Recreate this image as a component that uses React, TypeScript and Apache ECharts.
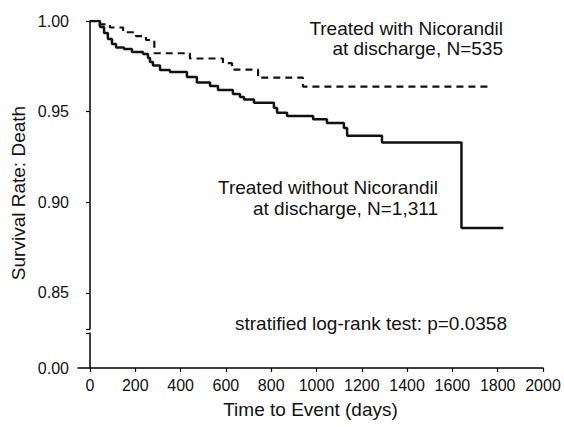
import React, { useEffect, useRef } from "react";
import * as echarts from "echarts";

// Kaplan-Meier steps (day, survival)
const withDays = [0, 31, 88, 146, 203, 247, 284, 441, 587, 627, 742, 940, 1773];
const withSurv = [1.0, 0.9981, 0.9964, 0.9938, 0.9917, 0.9895, 0.9822, 0.9793, 0.9767, 0.9732, 0.9687, 0.9638, 0.9638];

const withoutDays = [0, 44, 62, 79, 97, 115, 150, 185, 234, 256, 265, 278, 309, 353, 428, 472, 530, 565, 631, 662, 680, 724, 812, 826, 870, 985, 1046, 1121, 1135, 1289, 1640, 1825];
const withoutSurv = [1.0, 0.9967, 0.9934, 0.9901, 0.9873, 0.9854, 0.9846, 0.9829, 0.9818, 0.9796, 0.9774, 0.9755, 0.973, 0.9719, 0.9691, 0.966, 0.9641, 0.9619, 0.9597, 0.9581, 0.9567, 0.9549, 0.952, 0.9494, 0.9476, 0.9458, 0.9437, 0.941, 0.9367, 0.933, 0.8857, 0.8857];

const xTicks = [0, 200, 400, 600, 800, 1000, 1200, 1400, 1600, 1800, 2000];
const yTicksTop = [0.85, 0.9, 0.95, 1.0];
const yTicksBottom = [0];

const xTitle = "Time to Event (days)";
const yTitle = "Survival Rate: Death";
const labelWith = ["Treated with Nicorandil", "at discharge, N=535"];
const labelWithout = ["Treated without Nicorandil", "at discharge, N=1,311"];
const testLabel = "stratified log-rank test: p=0.0358";

const FONT = '"Liberation Sans", Arial, Helvetica, sans-serif';

export default function App() {
  const ref = useRef<HTMLDivElement>(null);
  useEffect(() => {
    if (!ref.current) return;
    const chart = echarts.init(ref.current, null, { renderer: "svg" });
    const xMin = -53;
    const xMax = 2000;
    const axisLineStyle = { color: "#000", width: 1.5 };
    const textBase = { fill: "#111", fontSize: 19, fontFamily: FONT };
    chart.setOption({
      animation: false,
      backgroundColor: "#fff",
      textStyle: { fontFamily: FONT },
      grid: [
        { left: 78, right: 21, top: 21, height: 308 },
        { left: 78, right: 21, top: 333, height: 35 },
      ],
      xAxis: [
        { type: "value", gridIndex: 0, min: xMin, max: xMax, show: false },
        {
          type: "value",
          gridIndex: 1,
          min: xMin,
          max: xMax,
          splitLine: { show: false },
          axisLine: { show: true, lineStyle: axisLineStyle },
          axisTick: { show: true, length: 4, customValues: xTicks, lineStyle: { color: "#000", width: 1.2 } },
          axisLabel: {
            customValues: xTicks,
            color: "#111",
            fontSize: 16,
            fontFamily: FONT,
            margin: 9,
            formatter: (v: number) => String(Math.round(v)),
          },
          name: xTitle,
          nameLocation: "middle",
          nameGap: 32,
          nameTextStyle: { color: "#111", fontSize: 19, fontFamily: FONT },
        },
      ],
      yAxis: [
        {
          type: "value",
          gridIndex: 0,
          min: 0.83,
          max: 1.0,
          splitLine: { show: false },
          axisLine: { show: true, lineStyle: axisLineStyle },
          axisTick: { show: true, length: 4, customValues: [0.83, ...yTicksTop], lineStyle: { color: "#000", width: 1.2 } },
          axisLabel: {
            customValues: yTicksTop,
            color: "#111",
            fontSize: 16,
            fontFamily: FONT,
            margin: 9,
            formatter: (v: number) => v.toFixed(2),
          },
        },
        {
          type: "value",
          gridIndex: 1,
          min: 0,
          max: 1,
          splitLine: { show: false },
          axisLine: { show: true, lineStyle: axisLineStyle },
          axisTick: { show: true, length: 4, customValues: [1], lineStyle: { color: "#000", width: 1.2 } },
          axisLabel: {
            customValues: yTicksBottom,
            color: "#111",
            fontSize: 16,
            fontFamily: FONT,
            margin: 9,
            formatter: (v: number) => v.toFixed(2),
          },
        },
      ],
      series: [
        {
          name: "Treated with Nicorandil",
          type: "line",
          xAxisIndex: 0,
          yAxisIndex: 0,
          step: "end",
          showSymbol: false,
          symbol: "none",
          data: withDays.map((d, i) => [d, withSurv[i]]),
          lineStyle: { color: "#111", width: 2.2, type: [7, 5] },
        },
        {
          name: "Treated without Nicorandil",
          type: "line",
          xAxisIndex: 0,
          yAxisIndex: 0,
          step: "end",
          showSymbol: false,
          symbol: "none",
          data: withoutDays.map((d, i) => [d, withoutSurv[i]]),
          lineStyle: { color: "#111", width: 2.5 },
        },
      ],
      graphic: [
        { type: "text", style: { ...textBase, text: labelWith[0], x: 503, y: 28, align: "right", verticalAlign: "middle" } },
        { type: "text", style: { ...textBase, text: labelWith[1], x: 503, y: 48, align: "right", verticalAlign: "middle" } },
        { type: "text", style: { ...textBase, text: labelWithout[0], x: 438, y: 187, align: "right", verticalAlign: "middle" } },
        { type: "text", style: { ...textBase, text: labelWithout[1], x: 438, y: 208, align: "right", verticalAlign: "middle" } },
        { type: "text", style: { ...textBase, text: testLabel, x: 235, y: 323, align: "left", verticalAlign: "middle" } },
        {
          type: "text",
          x: 18,
          y: 193,
          rotation: Math.PI / 2,
          style: { ...textBase, text: yTitle, align: "center", verticalAlign: "middle" },
        },
      ],
    });
    return () => chart.dispose();
  }, []);
  return (
    <div
      ref={ref}
      style={{ position: "fixed", left: 0, top: 0, width: 564, height: 427, background: "#fff" }}
    />
  );
}
